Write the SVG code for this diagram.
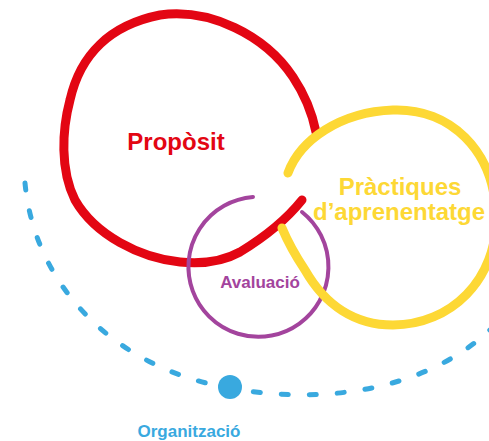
<svg xmlns="http://www.w3.org/2000/svg" width="489" height="441" viewBox="0 0 489 441">
<style>
.lbl{font-family:"Liberation Sans",Arial,sans-serif;font-weight:bold;text-anchor:middle}
.ln{fill:none;stroke-linecap:round;stroke-linejoin:round}
</style>
<rect width="489" height="441" fill="#ffffff"/>
<g id="connectors">
<path id="organitzacio-arc" class="ln" d="M25,183 C35,290 120,370 230,388 C320,405 425,392 492,328" stroke="#39a9df" stroke-width="5" stroke-dasharray="7 21"/>
</g>
<g id="organitzacio">
<circle cx="230" cy="387" r="12" fill="#39a9df"/>
<text class="lbl" x="189" y="437" font-size="17" fill="#39a9df">Organització</text>
</g>
<g id="proposit">
<path class="ln" d="M302,200 C290,215 268,235 240,252 C222,262 200,264 180,262 C140,258 95,235 75,200 C60,170 62,130 70,100 C80,55 110,25 160,15 C210,8 265,35 293,77 C305,95 312,112 316,132" stroke="#e30613" stroke-width="9"/>
<text class="lbl" x="176" y="150" font-size="24" fill="#e30613">Propòsit</text>
</g>
<g id="avaluacio">
<path class="ln" d="M253,197 A70,70 0 1 0 302,212" stroke="#a3449d" stroke-width="4"/>
<text class="lbl" x="260" y="288" font-size="17" fill="#a3449d">Avaluació</text>
</g>
<g id="practiques">
<path class="ln" d="M288,173 C300,140 340,112 393,110 C450,108 494,150 496,215 C498,280 450,325 393,325 C355,325 325,305 305,270 C295,255 287,240 282,228" stroke="#fdd835" stroke-width="9"/>
<text class="lbl" x="400" y="195" font-size="24" fill="#fdd835">Pràctiques</text>
<text class="lbl" x="399" y="220" font-size="24" fill="#fdd835">d’aprenentatge</text>
</g>
</svg>
